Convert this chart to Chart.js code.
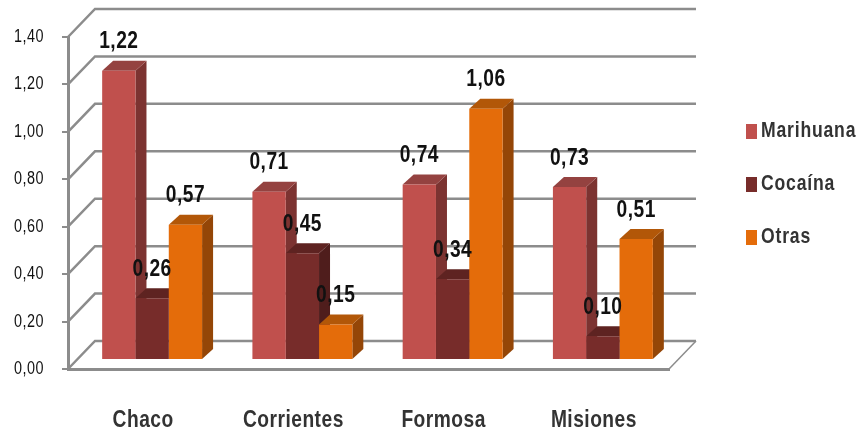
<!DOCTYPE html>
<html>
<head>
<meta charset="utf-8">
<style>
  html, body { margin: 0; padding: 0; background: #fff; }
  canvas { display: block; filter: blur(0.4px); }
</style>
<script src="https://cdn.jsdelivr.net/npm/chart.js@4"></script>
</head>
<body>
<canvas id="drugChart" width="857" height="432"></canvas>
<script>
const categories = ['Chaco', 'Corrientes', 'Formosa', 'Misiones'];
const seriesNames = ['Marihuana', 'Cocaína', 'Otras'];
const marihuana = [1.22, 0.71, 0.74, 0.73];
const cocaina = [0.26, 0.45, 0.34, 0.10];
const otras = [0.57, 0.15, 1.06, 0.51];

const frontColors = ['#C0504D', '#772C2A', '#E46C0A'];
const sideColors = ['#7C3331', '#4F1D1C', '#944607'];
const topColors = ['#944240', '#5E2321', '#B25708'];

const gridColor = '#8C8C8C';
const textColor = '#333';
const fontName = '"Liberation Sans", sans-serif';
const textSqueeze = 0.8; // the reference text is tall and narrow

// 3d look: bars sit a bit behind the front plane, the walls further back
const barShift = 9;
const barDepthX = 11;
const barDepthY = 10;
const wallX = 27;
const wallY = 28;

function comma(v) {
  return Number(v).toFixed(2).replace('.', ',');
}

function poly(ctx, color, pts) {
  ctx.fillStyle = color;
  ctx.beginPath();
  pts.forEach((p, i) => i ? ctx.lineTo(p[0], p[1]) : ctx.moveTo(p[0], p[1]));
  ctx.closePath();
  ctx.fill();
}

const narrowText = {
  id: 'narrowText',
  beforeDraw(chart) {
    const ctx = chart.ctx;
    ctx.letterSpacing = '0.6px';
    if (ctx.plainFillText) return;
    ctx.plainFillText = ctx.fillText;
    ctx.fillText = function (text, x, y) {
      ctx.save();
      ctx.translate(x, y);
      ctx.scale(textSqueeze, 1);
      ctx.plainFillText(text, 0, 0);
      ctx.restore();
    };
  }
};

const walls = {
  id: 'walls',
  beforeDatasetsDraw(chart) {
    const ctx = chart.ctx;
    const area = chart.chartArea;
    const y = chart.scales.y;
    ctx.save();
    ctx.strokeStyle = gridColor;
    ctx.lineWidth = 2.5;
    y.ticks.forEach(t => {
      const py = y.getPixelForValue(t.value);
      ctx.beginPath();
      ctx.moveTo(area.left, py);
      ctx.lineTo(area.left + wallX, py - wallY);
      ctx.lineTo(area.right + wallX, py - wallY);
      ctx.stroke();
    });
    // floor edge on the right
    ctx.lineWidth = 1.5;
    ctx.beginPath();
    ctx.moveTo(area.right, area.bottom);
    ctx.lineTo(area.right + wallX, area.bottom - wallY);
    ctx.stroke();
    ctx.restore();
  }
};

const bars3d = {
  id: 'bars3d',
  beforeDatasetsDraw(chart) {
    const ctx = chart.ctx;
    chart.data.datasets.forEach((ds, i) => {
      chart.getDatasetMeta(i).data.forEach(bar => {
        const l = bar.x - bar.width / 2 + barShift;
        const r = bar.x + bar.width / 2 + barShift;
        const t = bar.y - barShift;
        const b = bar.base - barShift;
        poly(ctx, sideColors[i], [[r, t], [r + barDepthX, t - barDepthY], [r + barDepthX, b - barDepthY], [r, b]]);
        poly(ctx, topColors[i], [[l, t], [l + barDepthX, t - barDepthY], [r + barDepthX, t - barDepthY], [r, t]]);
      });
    });
    // native bars get drawn as the front faces, moved back with the same shift
    ctx.save();
    ctx.translate(barShift, -barShift);
  },
  afterDatasetsDraw(chart) {
    const ctx = chart.ctx;
    ctx.restore();
    ctx.save();
    ctx.fillStyle = '#111';
    ctx.font = 'bold 24px ' + fontName;
    ctx.textAlign = 'center';
    ctx.textBaseline = 'middle';
    chart.data.datasets.forEach((ds, i) => {
      chart.getDatasetMeta(i).data.forEach((bar, j) => {
        ctx.fillText(comma(ds.data[j]), bar.x + barShift, bar.y - barShift - 29);
      });
    });
    ctx.restore();
  }
};

// legend on the right, rows 53px apart
const legendBox = {
  id: 'legendBox',
  afterDraw(chart) {
    const ctx = chart.ctx;
    ctx.save();
    ctx.font = 'bold 22px ' + fontName;
    ctx.letterSpacing = '1px';
    ctx.textBaseline = 'middle';
    seriesNames.forEach((name, i) => {
      const cy = 131 + i * 53;
      ctx.fillStyle = frontColors[i];
      ctx.fillRect(746, cy - 7, 11, 15);
      ctx.fillStyle = textColor;
      ctx.fillText(name, 761, cy);
    });
    ctx.restore();
  }
};

new Chart(document.getElementById('drugChart').getContext('2d'), {
  type: 'bar',
  data: {
    labels: categories,
    datasets: [
      { label: seriesNames[0], data: marihuana, backgroundColor: frontColors[0], clip: false },
      { label: seriesNames[1], data: cocaina, backgroundColor: frontColors[1], clip: false },
      { label: seriesNames[2], data: otras, backgroundColor: frontColors[2], clip: false }
    ]
  },
  options: {
    responsive: false,
    animation: false,
    devicePixelRatio: 1,
    layout: { padding: { top: 37, right: 188, bottom: 0, left: 0 } },
    datasets: { bar: { categoryPercentage: 0.665, barPercentage: 1 } },
    plugins: {
      tooltip: { enabled: false },
      legend: { display: false }
    },
    scales: {
      x: {
        grid: { display: false },
        border: { color: gridColor, width: 3 },
        afterFit: s => { s.height = 63; },
        ticks: {
          color: textColor,
          padding: 29,
          maxRotation: 0,
          font: { family: fontName, size: 24, weight: 'bold' }
        }
      },
      y: {
        min: 0,
        max: 1.4,
        afterFit: s => { s.width = 68; },
        grid: { drawOnChartArea: false, color: gridColor, lineWidth: 2, tickLength: 6 },
        border: { color: gridColor, width: 3 },
        ticks: {
          stepSize: 0.2,
          color: '#111',
          padding: 18,
          font: { family: fontName, size: 18 },
          callback: v => comma(v)
        }
      }
    }
  },
  plugins: [narrowText, walls, bars3d, legendBox]
});
</script>
</body>
</html>
